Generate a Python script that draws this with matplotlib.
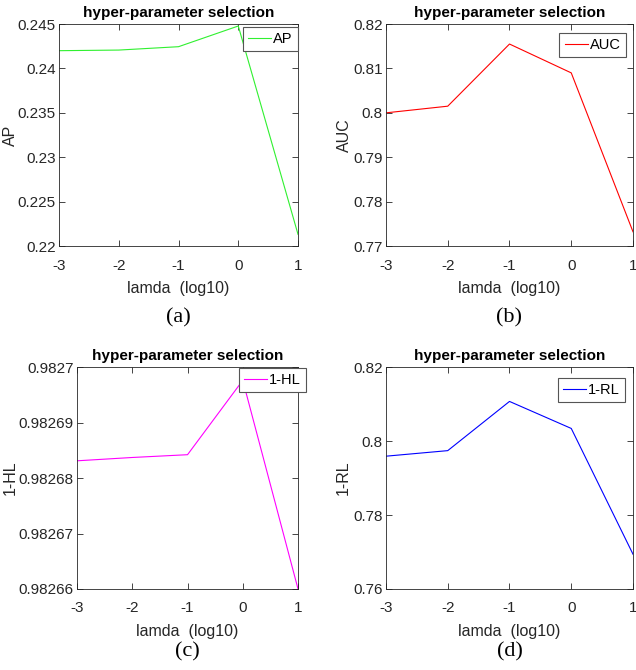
import numpy as np
import matplotlib.pyplot as plt

lam = [-3, -2, -1, 0, 1]
ap = [0.2420, 0.24207, 0.24245, 0.24478, 0.22131]
auc = [0.8000, 0.8015, 0.8155, 0.8090, 0.7732]
hl = [0.9826831, 0.9826837, 0.9826842, 0.9826976, 0.98266]
rl = [0.7959, 0.7974, 0.8107, 0.8034, 0.7694]

ap_ticks = [0.22, 0.225, 0.23, 0.235, 0.24, 0.245]
ap_lbls = ['0.22', '0.225', '0.23', '0.235', '0.24', '0.245']
auc_ticks = [0.77, 0.78, 0.79, 0.80, 0.81, 0.82]
auc_lbls = ['0.77', '0.78', '0.79', '0.8', '0.81', '0.82']
hl_ticks = [0.98266, 0.98267, 0.98268, 0.98269, 0.98270]
hl_lbls = ['0.98266', '0.98267', '0.98268', '0.98269', '0.9827']
rl_ticks = [0.76, 0.78, 0.80, 0.82]
rl_lbls = ['0.76', '0.78', '0.8', '0.82']

plt.rcParams['font.family'] = ['Liberation Sans', 'DejaVu Sans']
txt = '#262626'

fig = plt.figure(figsize=(6.36, 6.70), dpi=100)

# rect, values, colour, name, yticks, ylabels, caption, ylabel x, legend anchor, caption y
panels = [
    ([0.0928, 0.6328, 0.3758, 0.3313], ap, '#30f030', 'AP', ap_ticks, ap_lbls, '(a)',
     -0.171, (1.0, 0.986), 0.525),
    ([0.6069, 0.6328, 0.3884, 0.3313], auc, '#ff0000', 'AUC', auc_ticks, auc_lbls, '(b)',
     -0.138, (0.972, 0.959), 0.525),
    ([0.1211, 0.1209, 0.3475, 0.3313], hl, '#ff00ff', '1-HL', hl_ticks, hl_lbls, '(c)',
     -0.267, (1.036, 0.995), 0.027),
    ([0.6069, 0.1209, 0.3884, 0.3313], rl, '#0000ff', '1-RL', rl_ticks, rl_lbls, '(d)',
     -0.142, (0.968, 0.950), 0.027),
]

for rect, vals, col, name, yt, yl, cap, ylx, anch, capy in panels:
    ax = fig.add_axes(rect)
    ax.plot(lam, vals, color=col, lw=0.8, label=name)
    ax.set_xlim(-3, 1)
    ax.set_ylim(yt[0], yt[-1])
    ax.set_xticks(lam)
    ax.set_xticklabels(['-3', '-2', '-1', '0', '1'])
    ax.set_yticks(yt)
    ax.set_yticklabels(yl)
    ax.tick_params(direction='in', top=True, right=True, length=4, width=0.6,
                   labelsize=11, colors=txt)
    ax.tick_params(axis='x', pad=9)
    ax.tick_params(axis='y', pad=2.5)
    for s in ax.spines.values():
        s.set_color(txt)
        s.set_linewidth(0.6)
    ax.set_title('hyper-parameter selection', fontsize=11, fontweight='bold', pad=5)
    ax.set_xlabel('lamda  (log10)', fontsize=11.5, color=txt, labelpad=6)
    ax.set_ylabel(name, fontsize=11.5, color=txt)
    ax.yaxis.set_label_coords(ylx, 0.5)
    leg = ax.legend(loc='upper right', bbox_to_anchor=anch, fontsize=10.5,
                    fancybox=False, framealpha=1, edgecolor='#555555',
                    handlelength=1.6, handletextpad=0.15,
                    borderaxespad=0, borderpad=0.35)
    leg.get_frame().set_linewidth(0.8)
    fig.text(rect[0] + rect[2] / 2, capy, cap, ha='center', va='center',
             fontsize=16, family='Liberation Serif')

fig.savefig('out.png', dpi=100)
